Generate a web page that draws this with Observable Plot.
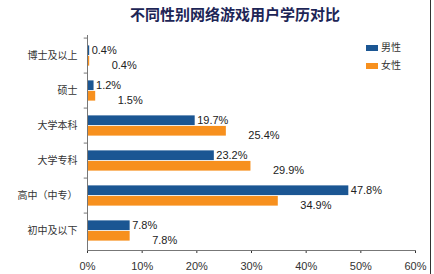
<!DOCTYPE html>
<html><head><meta charset="utf-8">
<script src="https://cdn.jsdelivr.net/npm/d3@7"></script>
<script src="https://cdn.jsdelivr.net/npm/@observablehq/plot@0.6"></script>
<style>
body{margin:0;background:#fff;}
#wrap{position:relative;width:434px;height:274px;overflow:hidden;background:#fff;font-family:"Noto Sans CJK SC",sans-serif;}
#title{position:absolute;left:130px;width:210px;top:3px;text-align:center;font-size:15px;font-weight:bold;color:#1d2556;letter-spacing:0px;}
#chart{position:absolute;left:0;top:28px;}
#legend{position:absolute;left:366px;top:38px;font-size:10px;color:#333;line-height:18px;}
#legend span.sw{display:inline-block;width:12px;height:6px;margin-right:3px;vertical-align:middle;}
#edge{position:absolute;left:430px;top:0;width:1px;height:274px;background:#333;}
</style></head>
<body><div id="wrap"><div id="title"></div><div id="chart"></div><div id="legend"></div><div id="edge"></div></div>
<script>
const title = "不同性别网络游戏用户学历对比";
const categories = ["博士及以上", "硕士", "大学本科", "大学专科", "高中（中专）", "初中及以下"];
const seriesNames = ["男性", "女性"];
const male = [0.4, 1.2, 19.7, 23.2, 47.8, 7.8];
const female = [0.4, 1.5, 25.4, 29.9, 34.9, 7.8];
const xTicks = [0, 10, 20, 30, 40, 50, 60];
const colors = ["#1b5693", "#f7901e"];

document.getElementById("title").textContent = title;
document.getElementById("legend").innerHTML = seriesNames.map((s, i) =>
  `<div><span class="sw" style="background:${colors[i]}"></span>${s}</div>`).join("");

const data = categories.map((c, i) => ({cat: c, male: male[i], female: female[i]}));

const W = 434, H = 246, mt = 7, mb = 24, ml = 87, mr = 19;
const band = (H - mt - mb) / categories.length;
const outer = band * 0.206, barH = band * 0.294;
const fmt = v => v.toFixed(1) + "%";

const chart = Plot.plot({
  width: W, height: H,
  marginTop: mt, marginBottom: mb, marginLeft: ml, marginRight: mr,
  style: {fontFamily: "Liberation Sans, Arial, sans-serif", fontSize: "11px", color: "#333", background: "transparent"},
  x: {domain: [0, 60], ticks: xTicks, tickFormat: d => d + "%", tickSize: 3, tickPadding: 9, label: null},
  y: {domain: categories, padding: 0, label: null, tickSize: 0, tickPadding: 10},
  marks: [
    Plot.barX(data, {x: "male", y: "cat", fill: colors[0], insetTop: outer, insetBottom: band - outer - barH}),
    Plot.barX(data, {x: "female", y: "cat", fill: colors[1], insetTop: outer + barH, insetBottom: outer}),
    Plot.text(data, {x: "male", y: "cat", text: d => fmt(d.male), textAnchor: "start", dx: 2, dy: -(band / 2 - outer - barH / 2), fill: "#222", fontSize: 11}),
    Plot.text(data, {x: "female", y: "cat", text: d => fmt(d.female), textAnchor: "start", dx: 22, dy: (band / 2 - outer - barH / 2) + 4, fill: "#222", fontSize: 11}),
    Plot.ruleY(categories, {y: d => d, x1: -0.6, x2: 0, dy: -band / 2, stroke: "#777"}),
    Plot.frame({anchor: "left", stroke: "#777"}),
    Plot.frame({anchor: "bottom", stroke: "#777"})
  ]
});
chart.querySelectorAll("g[aria-label='y-axis tick label']").forEach(g => {
  g.setAttribute("font-size", "10");
  g.setAttribute("font-family", "Noto Sans CJK SC, sans-serif");
  g.setAttribute("fill", "#333");
});
document.getElementById("chart").appendChild(chart);
</script></body></html>
